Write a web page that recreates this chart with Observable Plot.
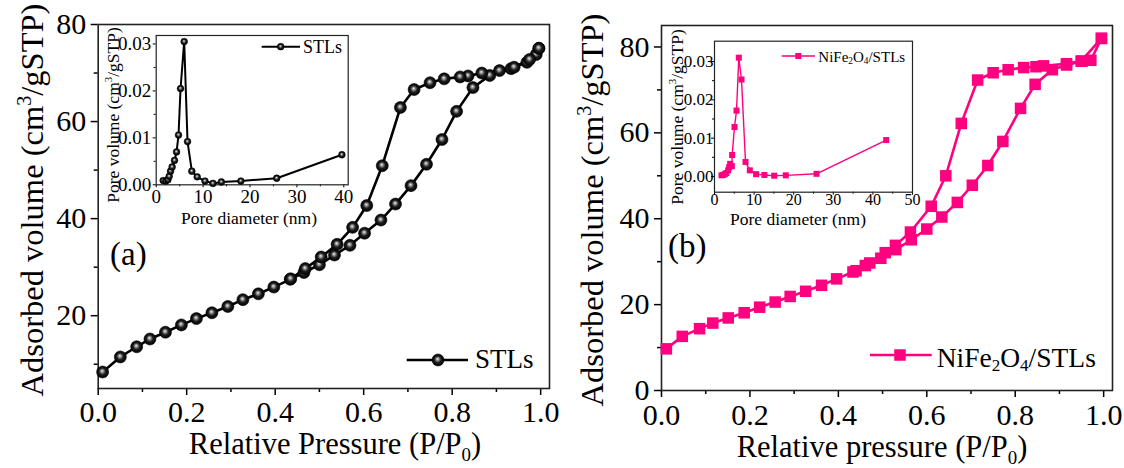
<!DOCTYPE html>
<html><head><meta charset="utf-8">
<script src="https://cdn.jsdelivr.net/npm/d3@7"></script>
<script src="https://cdn.jsdelivr.net/npm/@observablehq/plot@0.6"></script>
<style>
html,body{margin:0;padding:0;background:#fff;}
#root{position:relative;width:1124px;height:468px;overflow:hidden;background:#fff;font-family:"Liberation Serif","Times New Roman",Times,serif;}
svg text{font-family:"Liberation Serif","Times New Roman",Times,serif !important;}
</style></head><body>
<div id="root"></div>
<script>
// ---------- Panel (a): STLs N2 isotherm ----------
const stlsAdsP = [0.010,0.050,0.087,0.117,0.152,0.188,0.222,0.257,0.293,0.327,0.362,0.397,0.434,0.465,0.500,0.534,0.569,0.602,0.639,0.672,0.707,0.742,0.777,0.810,0.847,0.885,0.933,0.969,0.990,0.996];
const stlsAdsV = [8.4,11.5,13.6,15.2,16.6,18.1,19.4,20.6,21.9,23.3,24.5,25.9,27.5,28.9,30.5,32.5,34.5,37.0,39.7,43.0,46.8,51.2,56.3,62.1,67.0,69.5,70.9,72.2,73.8,75.1];
const stlsDesP = [0.996,0.975,0.940,0.907,0.867,0.836,0.818,0.782,0.750,0.714,0.683,0.642,0.607,0.575,0.540,0.504,0.468,0.435];
const stlsDesV = [75.1,72.8,71.2,70.5,70.0,69.4,69.2,68.8,68.0,66.6,62.9,50.9,42.7,38.2,34.7,32.1,29.7,27.6];
// inset (a): pore size distribution
const stlsPoreD = [1.49,2.06,2.5,2.77,3.06,3.4,3.9,4.34,4.76,5.19,5.97,6.68,7.6,8.74,10.4,12.1,13.9,18.05,25.7,39.6];
const stlsPoreV = [0.0009,0.0008,0.0011,0.0018,0.0029,0.0038,0.0052,0.0070,0.0106,0.0205,0.0305,0.0092,0.0029,0.0017,0.0008,0.0003,0.0006,0.0008,0.0014,0.0064];

// ---------- Panel (b): NiFe2O4/STLs ----------
const nfAdsP = [0.011,0.047,0.086,0.116,0.151,0.187,0.222,0.257,0.291,0.326,0.362,0.396,0.433,0.461,0.496,0.530,0.565,0.600,0.634,0.669,0.703,0.738,0.772,0.812,0.845,0.884,0.916,0.951,0.971,0.995];
const nfAdsV = [9.7,12.6,14.4,15.7,16.9,18.1,19.4,20.6,21.9,23.1,24.5,26.0,27.6,29.1,30.8,32.8,35.1,37.6,40.4,43.8,47.8,52.4,58.0,65.7,71.3,74.7,75.8,76.7,76.9,82.0];
const nfDesP = [0.995,0.949,0.916,0.864,0.847,0.819,0.784,0.750,0.715,0.678,0.643,0.610,0.563,0.529,0.506,0.471,0.440];
const nfDesV = [82.0,76.7,76.1,75.6,75.4,75.2,74.7,74.0,72.3,62.2,50.0,42.9,36.9,33.8,32.1,29.7,27.9];
const nfPoreD = [1.77,2.19,2.6,3.0,3.45,3.7,3.96,4.38,4.46,5.05,5.56,6.14,6.82,7.83,8.92,10.5,12.6,15.07,18.0,25.76,43.35];
const nfPoreV = [0.0003,0.0004,0.0006,0.0009,0.0016,0.0024,0.0033,0.0027,0.0056,0.0129,0.0172,0.0310,0.0253,0.0038,0.0016,0.0006,0.0004,0.0002,0.0003,0.0007,0.0095];

// ---------- ticks / labels ----------
const xMajor = [0,0.2,0.4,0.6,0.8,1.0];
const xMinor = [0.1,0.3,0.5,0.7,0.9];
const aYMajor = [20,40,60,80];
const bYMajor = [0,20,40,60,80];
const yMinor = [10,30,50,70];
const aInsetX = [0,10,20,30,40];
const bInsetX = [0,10,20,30,40,50];
const insetXMinor = [5,15,25,35,45];
const insetYMajor = [0,0.01,0.02,0.03];
const insetYMinor = [0.005,0.015,0.025];
const seriesA = "STLs";
const seriesB = [["NiFe",""],["2","sub"],["O",""],["4","sub"],["/STLs",""]];

const FONT = '"Liberation Serif","Times New Roman",Times,serif';
const pink = "#ff0080";
const zip = (xs, ys) => xs.map((x, i) => ({x, y: ys[i]}));
const root = document.getElementById("root");
const place = (el, left, top) => { el.style.position = "absolute"; el.style.left = left + "px"; el.style.top = top + "px"; el.style.maxWidth = "none"; root.appendChild(el); };
const baseStyle = {fontFamily: FONT, color: "black", background: "transparent", overflow: "visible"};
const setTickFont = (svg, px) => {
  d3.select(svg).selectAll('g[aria-label$="tick label"]').style("font-size", px + "px");
};

// gradient defs for 3D sphere markers
const defs = d3.create("svg").attr("width", 0).attr("height", 0);
const rg = defs.append("defs").append("radialGradient").attr("id", "sphere")
  .attr("cx", 0.5).attr("cy", 0.5).attr("r", 0.5).attr("fx", 0.45).attr("fy", 0.4);
rg.append("stop").attr("offset", "0%").attr("stop-color", "#eeeeee");
rg.append("stop").attr("offset", "22%").attr("stop-color", "#9a9a9a");
rg.append("stop").attr("offset", "55%").attr("stop-color", "#1e1e1e");
rg.append("stop").attr("offset", "100%").attr("stop-color", "#000");
place(defs.node(), 0, 0);

// ---------- main panel (a) ----------
const aAds = zip(stlsAdsP, stlsAdsV), aDes = zip(stlsDesP, stlsDesV);
const plotA = Plot.plot({
  width: 560, height: 468,
  marginLeft: 97.7, marginRight: 11, marginTop: 24, marginBottom: 80,
  x: {domain: [0, 1.02]}, y: {domain: [5, 80]},
  style: {...baseStyle, fontSize: "30px"},
  marks: [
    Plot.axisX({ticks: xMajor, tickSize: 7, tickPadding: 5, fontSize: 30, tickFormat: d => d.toFixed(1), label: null, strokeWidth: 1.5}),
    Plot.axisX({ticks: xMinor, tickSize: 4, tickFormat: () => "", label: null, strokeWidth: 1.5}),
    Plot.axisY({ticks: aYMajor, tickSize: 7, tickPadding: 5, fontSize: 30, label: null, strokeWidth: 1.5}),
    Plot.axisY({ticks: yMinor, tickSize: 4, tickFormat: () => "", label: null, strokeWidth: 1.5}),
    Plot.frame({stroke: "#222", strokeWidth: 1.6}),
    Plot.line(aAds, {x: "x", y: "y", stroke: "black", strokeWidth: 2.6}),
    Plot.line(aDes, {x: "x", y: "y", stroke: "black", strokeWidth: 2.6}),
    Plot.dot(aAds, {x: "x", y: "y", r: 6, fill: "url(#sphere)", stroke: "black", strokeWidth: 0.6}),
    Plot.dot(aDes, {x: "x", y: "y", r: 6, fill: "url(#sphere)", stroke: "black", strokeWidth: 0.6})
  ]
});
setTickFont(plotA, 30);
place(plotA, 0, 0);

// ---------- main panel (b) ----------
const bAds = zip(nfAdsP, nfAdsV), bDes = zip(nfDesP, nfDesV);
const plotB = Plot.plot({
  width: 564, height: 468,
  marginLeft: 101, marginRight: 12, marginTop: 25, marginBottom: 78,
  x: {domain: [0, 1.02]}, y: {domain: [0, 85]},
  style: {...baseStyle, fontSize: "30px"},
  marks: [
    Plot.axisX({ticks: xMajor, tickSize: 7, tickPadding: 6, fontSize: 30, tickFormat: d => d.toFixed(1), label: null, strokeWidth: 1.5}),
    Plot.axisX({ticks: xMinor, tickSize: 4, tickFormat: () => "", label: null, strokeWidth: 1.5}),
    Plot.axisY({ticks: bYMajor, tickSize: 7, tickPadding: 5, fontSize: 30, label: null, strokeWidth: 1.5}),
    Plot.axisY({ticks: yMinor, tickSize: 4, tickFormat: () => "", label: null, strokeWidth: 1.5}),
    Plot.frame({stroke: "#222", strokeWidth: 1.6}),
    Plot.line(bAds, {x: "x", y: "y", stroke: pink, strokeWidth: 2.6}),
    Plot.line(bDes, {x: "x", y: "y", stroke: pink, strokeWidth: 2.6}),
    Plot.dot(bAds, {x: "x", y: "y", r: 6.5, symbol: "square", fill: pink}),
    Plot.dot(bDes, {x: "x", y: "y", r: 6.5, symbol: "square", fill: pink})
  ]
});
setTickFont(plotB, 30);
place(plotB, 560, 0);

// ---------- inset (a) ----------
const insetA = Plot.plot({
  width: 290, height: 197,
  marginLeft: 75.7, marginRight: 22.3, marginTop: 15, marginBottom: 32.7,
  x: {domain: [0, 40.94]}, y: {domain: [0, 0.0318]},
  style: {...baseStyle, fontSize: "19px"},
  marks: [
    Plot.axisX({ticks: aInsetX, tickSize: 3, tickPadding: 2, fontSize: 19, label: null}),
    Plot.axisX({ticks: insetXMinor.slice(0, 4), tickSize: 2, tickFormat: () => "", label: null}),
    Plot.axisY({ticks: insetYMajor, tickSize: 3, tickPadding: 2, fontSize: 19, tickFormat: d => d.toFixed(2), label: null}),
    Plot.axisY({ticks: insetYMinor, tickSize: 2, tickFormat: () => "", label: null}),
    Plot.frame({stroke: "#222", strokeWidth: 1.2}),
    Plot.line(zip(stlsPoreD, stlsPoreV), {x: "x", y: "y", stroke: "black", strokeWidth: 2}),
    Plot.dot(zip(stlsPoreD, stlsPoreV), {x: "x", y: "y", r: 3.4, fill: "url(#sphere)", stroke: "black", strokeWidth: 0.5})
  ]
});
setTickFont(insetA, 19);
place(insetA, 80, 20);

// ---------- inset (b) ----------
const insetB = Plot.plot({
  width: 280, height: 197,
  marginLeft: 64, marginRight: 18, marginTop: 20.7, marginBottom: 25.3,
  x: {domain: [0, 50]}, y: {domain: [-0.0041, 0.0353]},
  style: {...baseStyle, fontSize: "16px"},
  marks: [
    Plot.axisX({ticks: bInsetX, tickSize: 3, tickPadding: -2, fontSize: 16, label: null}),
    Plot.axisX({ticks: insetXMinor, tickSize: 2, tickFormat: () => "", label: null}),
    Plot.axisY({ticks: insetYMajor, tickSize: 3, tickPadding: -2, fontSize: 17, tickFormat: d => d.toFixed(2), label: null}),
    Plot.axisY({ticks: insetYMinor, tickSize: 2, tickFormat: () => "", label: null}),
    Plot.frame({stroke: "#222", strokeWidth: 1.2}),
    Plot.line(zip(nfPoreD, nfPoreV), {x: "x", y: "y", stroke: pink, strokeWidth: 1.4}),
    Plot.dot(zip(nfPoreD, nfPoreV), {x: "x", y: "y", r: 3.4, symbol: "square", fill: pink})
  ]
});
d3.select(insetB).selectAll('g[aria-label="x-axis tick label"]').style("font-size", "16px");
d3.select(insetB).selectAll('g[aria-label="y-axis tick label"]').style("font-size", "17px");
place(insetB, 650, 20);

// ---------- overlay text & legends ----------
const ov = d3.create("svg").attr("width", 1124).attr("height", 468)
  .style("pointer-events", "none").style("font-family", FONT);

function rich(g, x, y, parts, size, anchor = "start", rotate = 0, subShift = 0.25) {
  const t = g.append("text").attr("transform", `translate(${x},${y}) rotate(${rotate})`)
    .attr("font-size", size).attr("text-anchor", anchor).attr("fill", "black");
  let cur = 0;
  for (const [s, k] of parts) {
    const target = k === "sub" ? size * subShift : k === "sup" ? -size * 0.38 : 0;
    const ts = t.append("tspan").text(s).attr("dy", target - cur);
    if (k) ts.attr("font-size", size * 0.62);
    cur = target;
  }
  return t;
}
const g = ov.append("g");
// panel letters
rich(g, 110, 265, [["(a)", ""]], 33);
rich(g, 668, 257, [["(b)", ""]], 33);
// axis titles
rich(g, 335, 454, [["Relative Pressure (P/P", ""], ["0", "sub"], [")", ""]], 30.5, "middle", 0, 0.24);
rich(g, 882, 457, [["Relative pressure (P/P", ""], ["0", "sub"], [")", ""]], 30.5, "middle", 0, 0.24);
rich(g, 43, 200, [["Adsorbed volume (cm", ""], ["3", "sup"], ["/gSTP)", ""]], 32.5, "middle", -90);
rich(g, 603, 210, [["Adsorbed volume (cm", ""], ["3", "sup"], ["/gSTP)", ""]], 32.5, "middle", -90);
// inset titles
rich(g, 119, 115, [["Pore volume (cm", ""], ["3", "sup"], ["/gSTP)", ""]], 17.5, "middle", -90);
rich(g, 683, 117, [["Pore volume (cm", ""], ["3", "sup"], ["/gSTP)", ""]], 17.5, "middle", -90);
rich(g, 249, 224, [["Pore diameter (nm)", ""]], 17.5, "middle");
rich(g, 798, 225, [["Pore diameter (nm)", ""]], 17.5, "middle");

// legends
const lg = ov.append("g");
lg.append("line").attr("x1", 406.7).attr("x2", 468).attr("y1", 360).attr("y2", 360).attr("stroke", "black").attr("stroke-width", 2.6);
lg.append("circle").attr("cx", 438).attr("cy", 360).attr("r", 6).attr("fill", "url(#sphere)").attr("stroke", "black").attr("stroke-width", 0.6);
rich(lg, 475, 368.3, [[seriesA, ""]], 27);

lg.append("line").attr("x1", 870).attr("x2", 931.7).attr("y1", 355).attr("y2", 355).attr("stroke", pink).attr("stroke-width", 2.6);
lg.append("rect").attr("x", 900 - 5.75).attr("y", 355 - 5.75).attr("width", 11.5).attr("height", 11.5).attr("fill", pink);
rich(lg, 936.7, 366.7, seriesB, 27.5, "start", 0, 0.17);

lg.append("line").attr("x1", 261.7).attr("x2", 300).attr("y1", 46.7).attr("y2", 46.7).attr("stroke", "black").attr("stroke-width", 2);
lg.append("circle").attr("cx", 280.7).attr("cy", 46.7).attr("r", 3.4).attr("fill", "url(#sphere)").attr("stroke", "black").attr("stroke-width", 0.5);
rich(lg, 303, 53.3, [[seriesA, ""]], 18);

lg.append("line").attr("x1", 781.7).attr("x2", 815).attr("y1", 56).attr("y2", 56).attr("stroke", pink).attr("stroke-width", 1.4);
lg.append("rect").attr("x", 798.3 - 3).attr("y", 56 - 3).attr("width", 6).attr("height", 6).attr("fill", pink);
rich(lg, 818.3, 61.7, seriesB, 15, "start", 0, 0.17);

place(ov.node(), 0, 0);
</script></body></html>
